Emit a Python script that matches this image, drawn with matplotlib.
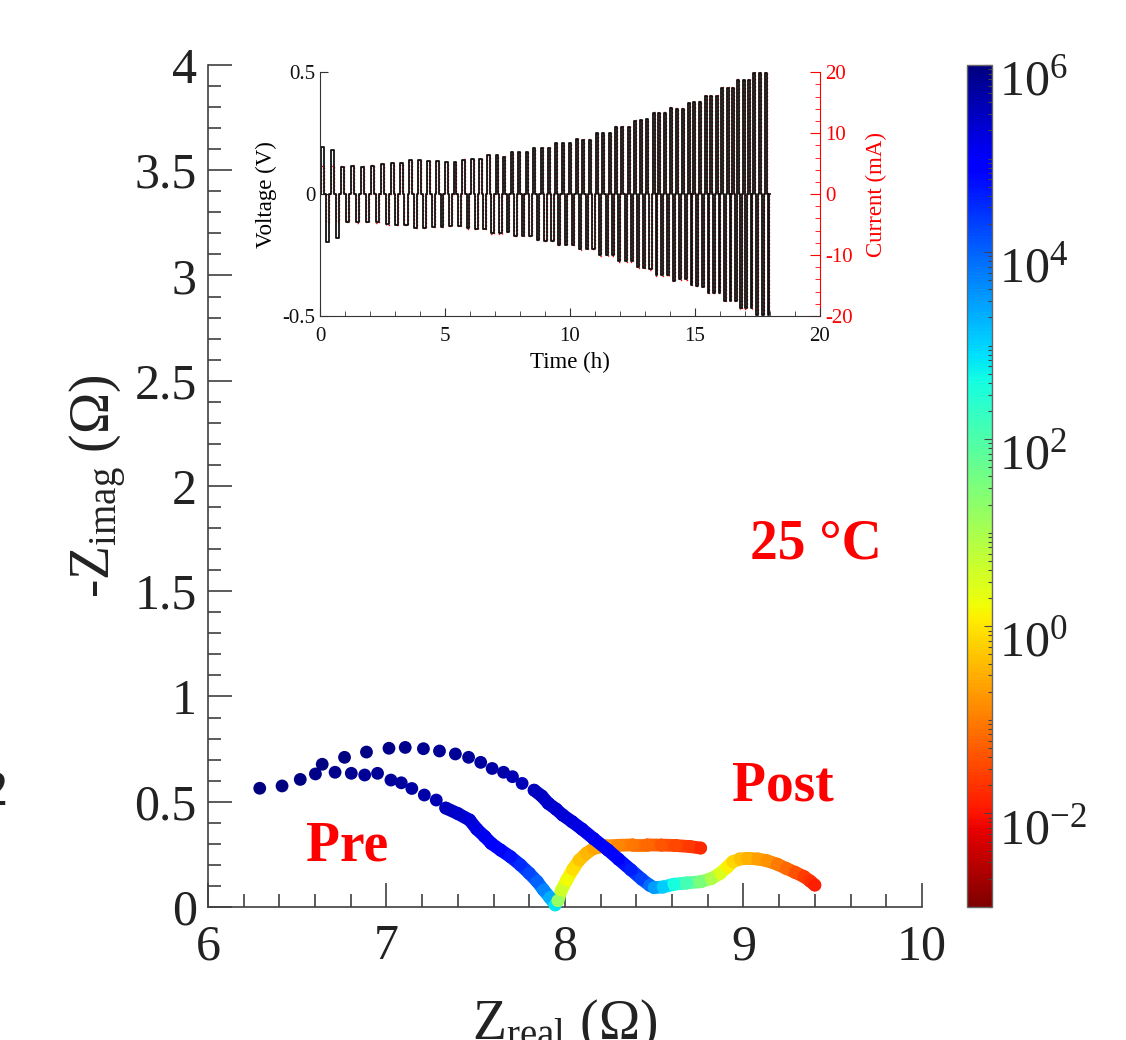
import numpy as np
import matplotlib
matplotlib.use("Agg")
import matplotlib.pyplot as plt
from matplotlib.colors import LogNorm
from matplotlib.collections import LineCollection
from matplotlib.ticker import MultipleLocator, LogLocator, FuncFormatter, NullFormatter
from matplotlib.transforms import ScaledTranslation

plt.rcParams['font.family'] = ['Liberation Serif', 'DejaVu Serif']
plt.rcParams['mathtext.fontset'] = 'custom'
plt.rcParams['mathtext.rm'] = 'Liberation Serif'
plt.rcParams['mathtext.it'] = 'Liberation Serif:italic'
plt.rcParams['mathtext.bf'] = 'Liberation Serif:bold'
plt.rcParams['axes.unicode_minus'] = False

# Nyquist data, Pre (lower arc) -- Z_real, -Z_imag in ohm, log10 of frequency in Hz
pre_z_real = [6.290, 6.415, 6.517, 6.602, 6.712, 6.803, 6.878, 6.950, 7.025, 7.083,
              7.142, 7.212, 7.279, 7.332, 7.399, 7.466, 7.506, 7.550, 7.587, 7.640,
              7.694, 7.750, 7.800, 7.845, 7.880, 7.915, 7.945, 7.960, 7.980, 8.010,
              8.045, 8.080, 8.120, 8.160, 8.230, 8.300, 8.380, 8.460, 8.540, 8.620,
              8.700, 8.760]
pre_z_imag = [0.564, 0.575, 0.606, 0.632, 0.640, 0.635, 0.627, 0.635, 0.603, 0.590,
              0.563, 0.532, 0.508, 0.470, 0.444, 0.413, 0.370, 0.335, 0.302, 0.270,
              0.239, 0.200, 0.160, 0.120, 0.081, 0.045, 0.010, 0.030, 0.080, 0.128,
              0.180, 0.223, 0.255, 0.278, 0.290, 0.293, 0.295, 0.295, 0.294, 0.292,
              0.287, 0.280]
pre_logf = [6.00, 5.97, 5.94, 5.91, 5.88, 5.85, 5.82, 5.79, 5.76, 5.73,
            5.70, 5.65, 5.60, 5.50, 5.40, 5.30, 5.20, 5.10, 5.00, 4.85,
            4.70, 4.50, 4.25, 4.00, 3.70, 3.35, 2.85, 1.20, 0.60, 0.20,
            -0.05, -0.30, -0.45, -0.60, -0.75, -0.90, -1.05, -1.20, -1.35, -1.50,
            -1.65, -1.80]
pre_dense_from = 13

# Post (upper arc)
post_z_real = [6.640, 6.765, 6.888, 7.014, 7.105, 7.207, 7.297, 7.386, 7.460, 7.528,
               7.592, 7.656, 7.706, 7.760, 7.827, 7.870, 7.907, 7.950, 7.987, 8.040,
               8.095, 8.160, 8.240, 8.300, 8.370, 8.430, 8.475, 8.500, 8.550, 8.610,
               8.680, 8.760, 8.820, 8.870, 8.910, 8.940, 8.980, 9.020, 9.080, 9.130,
               9.190, 9.240, 9.290, 9.340, 9.375, 9.400]
post_z_imag = [0.678, 0.711, 0.736, 0.754, 0.758, 0.752, 0.741, 0.727, 0.711, 0.687,
               0.658, 0.640, 0.619, 0.587, 0.555, 0.527, 0.492, 0.465, 0.437, 0.405,
               0.370, 0.325, 0.271, 0.227, 0.176, 0.132, 0.103, 0.092, 0.095, 0.108,
               0.114, 0.120, 0.135, 0.160, 0.190, 0.215, 0.228, 0.231, 0.228, 0.220,
               0.203, 0.183, 0.164, 0.144, 0.122, 0.104]
post_logf = [6.00, 5.97, 5.94, 5.91, 5.88, 5.85, 5.82, 5.79, 5.76, 5.73,
             5.70, 5.65, 5.60, 5.55, 5.50, 5.45, 5.40, 5.35, 5.30, 5.25,
             5.20, 5.10, 5.00, 4.85, 4.60, 4.30, 3.90, 3.50, 3.05, 2.60,
             2.10, 1.50, 0.95, 0.45, 0.10, -0.15, -0.35, -0.50, -0.65, -0.80,
             -1.00, -1.20, -1.40, -1.60, -1.75, -1.90]
post_dense_from = 14

# Inset: pulse centres (h), voltage amplitude (V), current amplitude (mA)
pulse_t = [0.09, 0.49, 0.91, 1.31, 1.71, 2.11, 2.51, 2.89, 3.25, 3.63,
           3.99, 4.35, 4.71, 5.05, 5.40, 5.75, 6.09, 6.43, 6.75, 7.07,
           7.36, 7.67, 7.97, 8.28, 8.57, 8.87, 9.16, 9.44, 9.71, 9.99,
           10.27, 10.53, 10.80, 11.08, 11.33, 11.60, 11.85, 12.09, 12.36, 12.61,
           12.84, 13.09, 13.35, 13.56, 13.80, 14.04, 14.28, 14.52, 14.75, 14.97,
           15.20, 15.43, 15.64, 15.87, 16.09, 16.31, 16.53, 16.73, 16.95, 17.16,
           17.37, 17.61, 17.83]
pulse_v = [0.195, 0.182, 0.113, 0.116, 0.113, 0.116, 0.124, 0.126, 0.127, 0.138,
           0.138, 0.134, 0.134, 0.131, 0.131, 0.141, 0.143, 0.143, 0.160, 0.161,
           0.154, 0.171, 0.171, 0.171, 0.189, 0.191, 0.191, 0.208, 0.208, 0.208,
           0.227, 0.224, 0.224, 0.250, 0.250, 0.250, 0.276, 0.276, 0.276, 0.300,
           0.303, 0.309, 0.332, 0.332, 0.332, 0.355, 0.350, 0.350, 0.373, 0.376,
           0.380, 0.404, 0.404, 0.404, 0.437, 0.437, 0.437, 0.469, 0.467, 0.469,
           0.496, 0.496, 0.496]
pulse_i = [4.6, 4.6, 4.6, 4.7, 4.6, 4.7, 5.0, 5.1, 5.1, 5.6,
           5.6, 5.4, 5.4, 5.3, 5.3, 5.7, 5.8, 5.8, 6.5, 6.5,
           6.2, 6.9, 6.9, 6.9, 7.6, 7.7, 7.7, 8.4, 8.4, 8.4,
           9.1, 9.0, 9.0, 10.1, 10.1, 10.1, 11.1, 11.1, 11.1, 12.1,
           12.2, 12.4, 13.4, 13.4, 13.4, 14.3, 14.1, 14.1, 15.0, 15.1,
           15.3, 16.3, 16.3, 16.3, 17.6, 17.6, 17.6, 18.9, 18.8, 18.9,
           20.0, 20.0, 20.0]
t_end = 18.0

cmap = 'jet_r'
norm = LogNorm(vmin=1e-3, vmax=1e6)
dot_s = 85
band_lw = 9.2


def pulse_train(centres, amps, end):
    ts, ys = [0.0], [0.0]
    for k, (tc, a) in enumerate(zip(centres, amps)):
        p = centres[k + 1] - tc if k + 1 < len(centres) else tc - centres[k - 1]
        w = 0.16 * p
        for c, s in ((tc, 1), (tc + 0.5 * p, -1)):
            ts += [c - w, c - w, c + w, c + w]
            ys += [0, s * a, s * a, 0]
    ts.append(end)
    ys.append(0)
    return ts, ys


def draw_curve(ax, zr, zi, logf, dense_from, z):
    zr = np.array(zr)
    zi = np.array(zi)
    f = 10 ** np.array(logf)
    pts = np.column_stack([zr, zi])[dense_from:]
    segs = np.stack([pts[:-1], pts[1:]], axis=1)
    fseg = np.sqrt(f[dense_from:-1] * f[dense_from + 1:])
    lc = LineCollection(segs, cmap=cmap, norm=norm, linewidths=band_lw,
                        capstyle='round', joinstyle='round', zorder=z, clip_on=False)
    lc.set_array(fseg)
    ax.add_collection(lc)
    ax.scatter(zr, zi, c=f, cmap=cmap, norm=norm, s=dot_s, linewidths=0,
               zorder=z + 0.5, clip_on=False)


fig = plt.figure(figsize=(11.26, 10.4), dpi=100)
ax = fig.add_axes([0.1847, 0.1279, 0.6341, 0.8096])
cax = fig.add_axes([0.8588, 0.1279, 0.0222, 0.8096])

draw_curve(ax, pre_z_real, pre_z_imag, pre_logf, pre_dense_from, 3)
draw_curve(ax, post_z_real, post_z_imag, post_logf, post_dense_from, 4)

ax.set_xlim(6, 10)
ax.set_ylim(0, 4)
for s in ('top', 'right'):
    ax.spines[s].set_visible(False)
for s in ('left', 'bottom'):
    ax.spines[s].set_color('#404040')
    ax.spines[s].set_linewidth(1.2)
ax.xaxis.set_major_locator(MultipleLocator(1))
ax.xaxis.set_minor_locator(MultipleLocator(0.2))
ax.yaxis.set_major_locator(MultipleLocator(0.5))
ax.yaxis.set_minor_locator(MultipleLocator(0.1))
ax.yaxis.set_major_formatter(FuncFormatter(lambda v, _: '%g' % v))
ax.tick_params(which='both', direction='in', colors='#404040', width=1.2,
               labelcolor='#222222', labelsize=36)
ax.tick_params(which='major', length=17.5)
ax.tick_params(which='minor', length=9.5)
ax.tick_params(axis='x', pad=12)
ax.tick_params(axis='y', pad=8)
ax.set_xlabel(r'Z$_{\mathregular{real}}$ ($\Omega$)', fontsize=40, color='#222222')
ax.xaxis.set_label_coords(0.5, -0.108)
ax.set_ylabel(r'-Z$_{\mathregular{imag}}$ ($\Omega$)', fontsize=40, color='#222222')
ax.yaxis.set_label_coords(-0.11, 0.5)

ax.text(9.403, 1.657, '25 \u00b0C', color='red', fontsize=40, fontweight='bold',
        ha='center', va='baseline')
ax.text(9.221, 0.508, 'Post', color='red', fontsize=40, fontweight='bold',
        ha='center', va='baseline')
ax.text(6.777, 0.223, 'Pre', color='red', fontsize=40, fontweight='bold',
        ha='center', va='baseline')

# colour bar
sm = plt.cm.ScalarMappable(norm=norm, cmap=cmap)
cb = fig.colorbar(sm, cax=cax)
cb.outline.set_edgecolor('#666666')
cb.outline.set_linewidth(1.0)
cb.set_ticks([1e-2, 1e0, 1e2, 1e4, 1e6])
cax.yaxis.set_major_formatter(FuncFormatter(lambda v, _: r'10$^{%d}$' % round(np.log10(v))))
cax.yaxis.set_minor_locator(LogLocator(base=10, subs=np.arange(1, 10), numticks=100))
cax.yaxis.set_minor_formatter(NullFormatter())
cax.tick_params(which='both', direction='in', right=True, left=False, colors='#444444',
                labelcolor='#222222', labelsize=36, pad=5, width=0.8)
cax.tick_params(which='major', length=6)
cax.tick_params(which='minor', length=3)
for tk in cax.yaxis.get_major_ticks():
    tk.label2.set_transform(tk.label2.get_transform() +
                            ScaledTranslation(0, -0.12, fig.dpi_scale_trans))

# stray glyph from neighbouring panel
fig.text(8 / 1126, 1 - 793 / 1040, '2', ha='right', va='center', fontsize=36, color='#222222')

# inset
ins = fig.add_axes([0.2842, 0.6962, 0.444, 0.2343])
twin = ins.twinx()
ins.set_zorder(twin.get_zorder() + 1)
ins.patch.set_visible(False)

tv, vv = pulse_train(pulse_t, pulse_v, t_end)
ins.plot(tv, vv, color='#111111', lw=1.3)
ins.set_xlim(0, 20)
ins.set_ylim(-0.5, 0.5)
ins.spines['top'].set_visible(False)
ins.spines['right'].set_visible(False)
for s in ('left', 'bottom'):
    ins.spines[s].set_color('#333333')
ins.xaxis.set_major_locator(MultipleLocator(5))
ins.xaxis.set_minor_locator(MultipleLocator(1))
ins.yaxis.set_major_locator(MultipleLocator(0.5))
ins.yaxis.set_major_formatter(FuncFormatter(lambda v, _: '%g' % v))
ins.tick_params(which='both', direction='in', labelsize=15, colors='#333333',
                labelcolor='#111111')
ins.tick_params(which='major', length=6)
ins.tick_params(which='minor', length=3.5)
ins.tick_params(axis='x', pad=8)
ins.set_xlabel('Time (h)', fontsize=16.5, labelpad=4)
ins.set_ylabel('Voltage (V)', fontsize=16.5, labelpad=4)

ti, ii = pulse_train(pulse_t, pulse_i, t_end)
twin.plot(ti, ii, color='red', lw=1.0, ls=':')
twin.set_ylim(-20, 20)
for s in ('left', 'top', 'bottom'):
    twin.spines[s].set_visible(False)
twin.spines['right'].set_color('red')
twin.yaxis.set_major_locator(MultipleLocator(10))
twin.yaxis.set_minor_locator(MultipleLocator(2))
twin.tick_params(which='both', direction='in', labelsize=15, colors='red')
twin.tick_params(which='major', length=7)
twin.tick_params(which='minor', length=3.5)
twin.set_ylabel('Current (mA)', fontsize=16.5, color='red', labelpad=10)

fig.savefig('out.png', dpi=100)
